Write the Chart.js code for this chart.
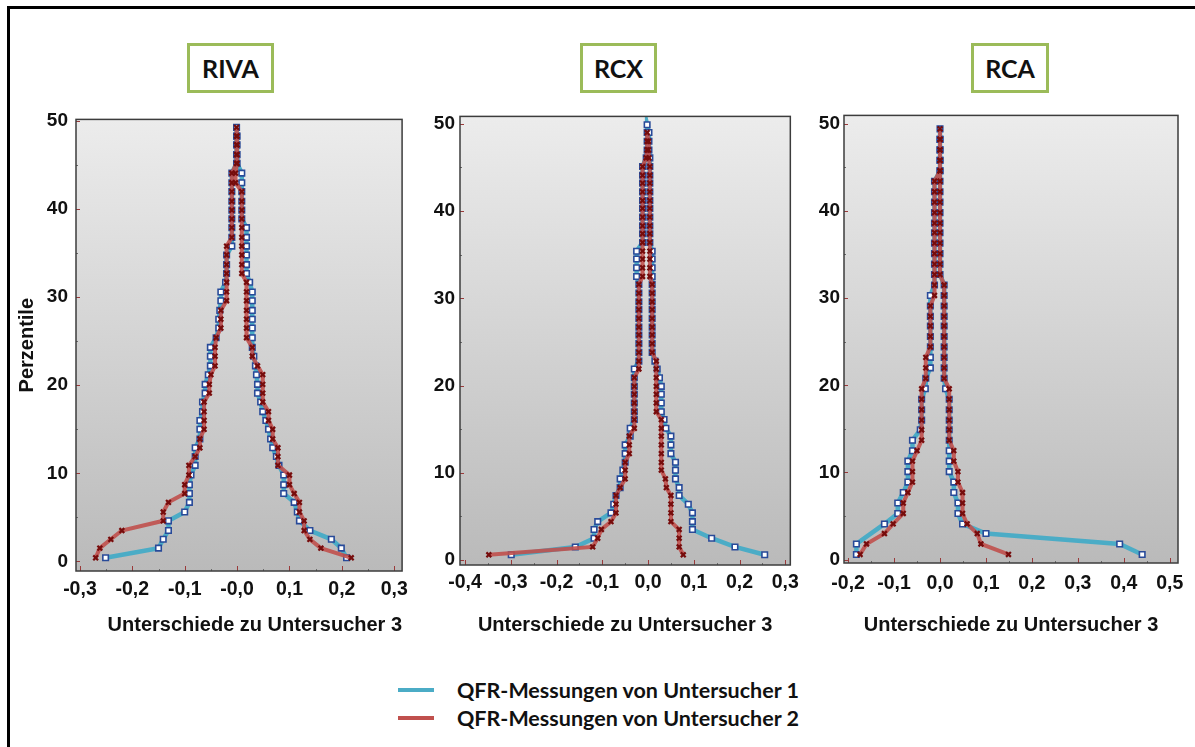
<!DOCTYPE html>
<html>
<head>
<meta charset="utf-8">
<script src="https://cdn.jsdelivr.net/npm/chart.js@4.4.1/dist/chart.umd.min.js"></script>
<style>
  html, body { margin: 0; padding: 0; background: #fff; }
  body { width: 1195px; height: 747px; position: relative; overflow: hidden; }
  #frame { position: absolute; left: 7px; top: 6px; width: 1200px; height: 760px;
           border-left: 3px solid #000; border-top: 3px solid #000; }
  canvas { position: absolute; }
  .tag { position: absolute; top: 43px; height: 50px; box-sizing: border-box;
         border: 3px solid #9bbb59; background: #fff; display: flex;
         align-items: center; justify-content: center;
         font: 700 25px Lato, "Open Sans", sans-serif; color: #111; }
  .key { position: absolute; left: 398px; height: 24px; display: flex; align-items: center;
         font: 700 21.5px Lato, "Open Sans", sans-serif; color: #111; white-space: nowrap; }
  .key span { display: inline-block; width: 36px; height: 4px; margin-right: 23px; }
</style>
</head>
<body>
<div id="frame"></div>
<div class="tag" style="left:187px;width:87px">RIVA</div>
<div class="tag" style="left:580px;width:77px">RCX</div>
<div class="tag" style="left:971px;width:78px">RCA</div>
<canvas id="riva" width="405" height="560" style="left:10px;top:100px"></canvas>
<canvas id="rcx" width="390" height="560" style="left:415px;top:100px"></canvas>
<canvas id="rca" width="390" height="560" style="left:805px;top:100px"></canvas>
<div class="key" style="top:678px"><span style="background:#4bacc6"></span>QFR-Messungen von Untersucher 1</div>
<div class="key" style="top:706px"><span style="background:#c0504d"></span>QFR-Messungen von Untersucher 2</div>
<script>
const yTicks = [0, 10, 20, 30, 40, 50];

// RIVA: folded percentile levels, then x per level (left flank rising, right flank falling)
const rivaLevels = [0.4, 1.5, 2.5, 3.5, 4.6, 5.6, 6.7, 7.7, 8.7, 9.8, 10.9, 11.9, 12.9, 13.9, 15.0, 16.0,
  17.0, 18.1, 19.1, 20.1, 21.2, 22.2, 23.3, 24.3, 25.4, 26.5, 27.5, 28.5, 29.6, 30.6, 31.7, 32.7,
  33.7, 34.8, 35.8, 36.8, 37.9, 38.9, 39.9, 40.9, 42.0, 43.0, 44.1, 45.2, 46.2, 47.3, 48.3, 49.3];
const rivaU1Left = [-0.251, -0.150, -0.141, -0.131, -0.131, -0.100, -0.091, -0.091, -0.091, -0.088,
  -0.080, -0.080, -0.080, -0.071, -0.071, -0.071, -0.066, -0.066, -0.061, -0.061, -0.055, -0.051,
  -0.051, -0.051, -0.040, -0.035, -0.035, -0.033, -0.031, -0.031, -0.022, -0.020, -0.020, -0.020,
  -0.010, -0.010, -0.010, -0.010, -0.010, -0.010, -0.010, -0.010, -0.010, -0.001, -0.001, -0.001,
  -0.001, -0.001];
const rivaU1Right = [0.000, 0.000, 0.000, 0.000, 0.009, 0.009, 0.009, 0.009, 0.009, 0.009, 0.018,
  0.018, 0.018, 0.018, 0.018, 0.018, 0.024, 0.029, 0.029, 0.029, 0.029, 0.029, 0.029, 0.029, 0.032,
  0.035, 0.037, 0.039, 0.039, 0.045, 0.049, 0.055, 0.060, 0.064, 0.068, 0.075, 0.080, 0.089, 0.089,
  0.089, 0.109, 0.115, 0.119, 0.139, 0.180, 0.199, 0.209];
const rivaU2Left = [-0.270, -0.262, -0.241, -0.220, -0.141, -0.141, -0.131, -0.100, -0.100, -0.092,
  -0.092, -0.080, -0.071, -0.071, -0.063, -0.063, -0.063, -0.063, -0.053, -0.053, -0.050, -0.042,
  -0.042, -0.042, -0.040, -0.031, -0.031, -0.031, -0.020, -0.020, -0.020, -0.020, -0.020, -0.020,
  -0.020, -0.010, -0.010, -0.010, -0.010, -0.010, -0.010, -0.010, -0.010, -0.001, -0.001, -0.001,
  -0.001, -0.001];
const rivaU2Right = [0.000, 0.000, 0.000, 0.000, -0.003, -0.003, 0.009, 0.009, 0.009, 0.009, 0.009,
  0.009, 0.009, 0.009, 0.009, 0.009, 0.018, 0.018, 0.018, 0.018, 0.018, 0.018, 0.018, 0.029, 0.029,
  0.039, 0.049, 0.049, 0.049, 0.049, 0.060, 0.060, 0.068, 0.068, 0.078, 0.078, 0.078, 0.100, 0.100,
  0.109, 0.119, 0.119, 0.128, 0.128, 0.139, 0.160, 0.218];
const rivaXTicks = [-0.3, -0.2, -0.1, 0, 0.1, 0.2, 0.3];
const rivaXLabels = ['-0,3', '-0,2', '-0,1', '-0,0', '0,1', '0,2', '0,3'];

// RCX
const rcxLevels = [0.6, 1.5, 2.5, 3.5, 4.4, 5.4, 6.4, 7.4, 8.3, 9.3, 10.3, 11.2, 12.2, 13.2, 14.2,
  15.1, 16.1, 17.0, 18.0, 19.0, 19.9, 20.9, 21.9, 22.8, 23.8, 24.8, 25.8, 26.7, 27.7, 28.7, 29.6,
  30.6, 31.6, 32.5, 33.5, 34.5, 35.4, 36.4, 37.4, 38.3, 39.3, 40.3, 41.2, 42.2, 43.2, 44.1, 45.1,
  46.1, 47.0, 48.0, 49.0, 49.9];
const rcxU1Left = [-0.299, -0.159, -0.118, -0.118, -0.110, -0.081, -0.075, -0.070, -0.061, -0.061,
  -0.055, -0.050, -0.050, -0.050, -0.039, -0.039, -0.030, -0.030, -0.030, -0.030, -0.030, -0.030,
  -0.030, -0.020, -0.020, -0.020, -0.020, -0.020, -0.020, -0.020, -0.020, -0.020, -0.020, -0.025,
  -0.025, -0.025, -0.025, -0.012, -0.012, -0.012, -0.012, -0.012, -0.012, -0.012, -0.012, -0.012,
  -0.012, -0.004, -0.002, -0.002, -0.002, -0.002];
const rcxU1Right = [0.002, 0.002, 0.002, 0.004, 0.004, 0.004, 0.004, 0.004, 0.004, 0.004, 0.004,
  0.004, 0.004, 0.004, 0.009, 0.009, 0.009, 0.009, 0.009, 0.009, 0.009, 0.009, 0.009, 0.009, 0.009,
  0.009, 0.009, 0.015, 0.020, 0.025, 0.029, 0.029, 0.029, 0.029, 0.035, 0.039, 0.050, 0.050, 0.050,
  0.060, 0.060, 0.060, 0.068, 0.068, 0.088, 0.097, 0.097, 0.097, 0.139, 0.190, 0.255];
const rcxU2Left = [-0.348, -0.121, -0.110, -0.102, -0.081, -0.070, -0.070, -0.070, -0.061, -0.050,
  -0.050, -0.050, -0.041, -0.041, -0.041, -0.030, -0.030, -0.030, -0.030, -0.030, -0.030, -0.030,
  -0.020, -0.020, -0.020, -0.020, -0.020, -0.020, -0.020, -0.020, -0.020, -0.020, -0.020, -0.012,
  -0.012, -0.012, -0.012, -0.012, -0.012, -0.012, -0.012, -0.012, -0.012, -0.012, -0.012, -0.012,
  -0.012, -0.004, -0.002, -0.002, -0.002];
const rcxU2Right = [0.001, 0.001, 0.002, 0.004, 0.004, 0.004, 0.004, 0.004, 0.004, 0.004, 0.004,
  0.004, 0.004, 0.004, 0.004, 0.004, 0.004, 0.009, 0.009, 0.009, 0.009, 0.009, 0.009, 0.009, 0.009,
  0.009, 0.018, 0.018, 0.018, 0.018, 0.018, 0.018, 0.018, 0.029, 0.029, 0.029, 0.029, 0.029, 0.029,
  0.029, 0.038, 0.040, 0.050, 0.050, 0.050, 0.050, 0.068, 0.068, 0.068, 0.077];
const rcxXTicks = [-0.4, -0.3, -0.2, -0.1, 0, 0.1, 0.2, 0.3];
const rcxXLabels = ['-0,4', '-0,3', '-0,2', '-0,1', '0,0', '0,1', '0,2', '0,3'];

// RCA (null = no measurement at that level)
const rcaLevels = [0.6, 1.8, 3.0, 4.1, 5.3, 6.5, 7.7, 8.9, 10.1, 11.3, 12.5, 13.7, 14.9, 16.0, 17.2,
  18.4, 19.6, 20.8, 22.0, 23.2, 24.4, 25.6, 26.8, 27.9, 29.1, 30.3, 31.5, 32.7, 33.9, 35.1, 36.3,
  37.5, 38.6, 39.8, 41.0, 42.2, 43.4, 44.6, 45.8, 47.0, 48.2, 49.4];
const rcaU1Left = [-0.182, -0.182, null, -0.121, -0.092, -0.092, -0.080, -0.070, -0.070, -0.070,
  -0.060, -0.060, -0.043, -0.040, -0.040, -0.040, -0.032, -0.031, -0.021, -0.021, -0.021, -0.021,
  -0.021, -0.021, -0.021, -0.021, -0.012, -0.012, -0.012, -0.012, -0.012, -0.012, -0.012, -0.012,
  -0.012, -0.012, -0.012, 0.000, 0.000, 0.000, 0.000, 0.000];
const rcaU1Right = [0.000, 0.000, 0.000, 0.000, 0.000, 0.000, 0.000, 0.000, 0.000, 0.000, 0.000,
  0.000, 0.000, 0.000, 0.009, 0.009, 0.009, 0.009, 0.009, 0.009, 0.009, 0.009, 0.009, 0.009, 0.012,
  0.020, 0.020, 0.020, 0.020, 0.020, 0.020, 0.020, 0.020, 0.030, 0.030, 0.039, 0.039, 0.049, 0.100,
  0.391, 0.440];
const rcaU2Left = [-0.174, -0.160, -0.121, -0.102, -0.080, -0.080, -0.070, -0.060, -0.060, -0.060,
  -0.050, -0.040, -0.040, -0.040, -0.040, -0.040, -0.040, -0.031, -0.031, -0.031, -0.021, -0.021,
  -0.021, -0.021, -0.021, -0.012, -0.012, -0.012, -0.012, -0.012, -0.012, -0.012, -0.012, -0.012,
  -0.012, -0.012, -0.012, 0.000, 0.000, 0.000, 0.000, 0.000];
const rcaU2Right = [0.000, 0.000, 0.000, 0.000, 0.000, 0.000, 0.000, 0.000, 0.000, 0.000, 0.000,
  0.000, 0.000, 0.000, 0.009, 0.009, 0.009, 0.009, 0.009, 0.009, 0.009, 0.009, 0.009, 0.009, 0.020,
  0.020, 0.020, 0.020, 0.020, 0.020, 0.030, 0.030, 0.039, 0.039, 0.049, 0.049, 0.049, 0.059, 0.081,
  0.089, 0.149];
const rcaXTicks = [-0.2, -0.1, 0, 0.1, 0.2, 0.3, 0.4, 0.5];
const rcaXLabels = ['-0,2', '-0,1', '0,0', '0,1', '0,2', '0,3', '0,4', '0,5'];

// left flank uses levels[0..], right flank walks back down from the level below the peak
function mountain(levels, left, right) {
  const pts = [];
  left.forEach((x, i) => { if (x !== null) pts.push({ x: x, y: levels[i] }); });
  right.forEach((x, i) => { if (x !== null) pts.push({ x: x, y: levels[left.length - 2 - i] }); });
  return pts;
}

Chart.defaults.font.family = '"Liberation Sans", Arial, sans-serif';
Chart.defaults.font.weight = 'bold';
Chart.defaults.color = '#111';

// grey gradient plot area, dark frame and small inward ticks
const plotFrame = {
  id: 'plotFrame',
  beforeDatasetsDraw(chart) {
    const { ctx, chartArea: a } = chart;
    const g = ctx.createLinearGradient(0, a.top, 0, a.bottom);
    g.addColorStop(0, '#ececec');
    g.addColorStop(1, '#bababa');
    ctx.save();
    ctx.fillStyle = g;
    ctx.fillRect(a.left, a.top, a.right - a.left, a.bottom - a.top);
    ctx.restore();
  },
  afterDatasetsDraw(chart) {
    const { ctx, chartArea: a, scales } = chart;
    ctx.save();
    ctx.lineWidth = 1;
    const xt = scales.x.ticks.map(t => t.value);
    xt.forEach((v, i) => {
      const px = Math.round(scales.x.getPixelForValue(v)) + 0.5;
      ctx.strokeStyle = '#9a3a3a';
      ctx.beginPath(); ctx.moveTo(px, a.bottom); ctx.lineTo(px, a.bottom - 5); ctx.stroke();
      if (i < xt.length - 1) {
        const mx = Math.round(scales.x.getPixelForValue((v + xt[i + 1]) / 2)) + 0.5;
        ctx.strokeStyle = '#6a6a6a';
        ctx.beginPath(); ctx.moveTo(mx, a.bottom); ctx.lineTo(mx, a.bottom - 2); ctx.stroke();
      }
    });
    const yt = scales.y.ticks.map(t => t.value);
    yt.forEach((v, i) => {
      const py = Math.round(scales.y.getPixelForValue(v)) + 0.5;
      ctx.strokeStyle = '#9a3a3a';
      ctx.beginPath(); ctx.moveTo(a.left, py); ctx.lineTo(a.left + 4, py); ctx.stroke();
      if (i < yt.length - 1) {
        const my = Math.round(scales.y.getPixelForValue((v + yt[i + 1]) / 2)) + 0.5;
        ctx.strokeStyle = '#6a6a6a';
        ctx.beginPath(); ctx.moveTo(a.left, my); ctx.lineTo(a.left + 2, my); ctx.stroke();
      }
    });
    ctx.strokeStyle = '#3c3c3c';
    ctx.lineWidth = 1.5;
    ctx.strokeRect(a.left, a.top, a.right - a.left, a.bottom - a.top);
    ctx.restore();
  }
};

const panels = [
  { id: 'riva', levels: rivaLevels, u1: [rivaU1Left, rivaU1Right], u2: [rivaU2Left, rivaU2Right],
    xMin: -0.3075, xMax: 0.315, yMin: -1.1, yMax: 50.2, xTicks: rivaXTicks, xLabels: rivaXLabels,
    padTop: 13, padRight: 9, yWidth: 66, xHeight: 89, xTickPad: 7, yTickPad: 8,
    yTitle: true, titleAlign: 'end' },
  { id: 'rcx', levels: rcxLevels, u1: [rcxU1Left, rcxU1Right], u2: [rcxU2Left, rcxU2Right],
    xMin: -0.411, xMax: 0.311, yMin: -0.57, yMax: 50.85, xTicks: rcxXTicks, xLabels: rcxXLabels,
    padTop: 11, padRight: 10, yWidth: 45, xHeight: 95, xTickPad: 6, yTickPad: 5,
    yTitle: false, titleAlign: 'center' },
  { id: 'rca', levels: rcaLevels, u1: [rcaU1Left, rcaU1Right], u2: [rcaU2Left, rcaU2Right],
    xMin: -0.209, xMax: 0.518, yMin: -0.38, yMax: 50.95, xTicks: rcaXTicks, xLabels: rcaXLabels,
    padTop: 13, padRight: 17, yWidth: 39, xHeight: 97, xTickPad: 9, yTickPad: 4,
    yTitle: false, titleAlign: 'center' }
];

panels.forEach(p => {
  new Chart(document.getElementById(p.id), {
    type: 'scatter',
    data: {
      datasets: [
        {
          label: 'QFR-Messungen von Untersucher 2',
          data: mountain(p.levels, p.u2[0], p.u2[1]),
          showLine: true,
          order: 0,
          borderColor: 'rgba(192, 80, 77, 0.9)',
          borderWidth: 4,
          pointStyle: 'crossRot',
          pointRadius: 3.4,
          pointBorderColor: '#760c0c',
          pointBorderWidth: 2.2
        },
        {
          label: 'QFR-Messungen von Untersucher 1',
          data: mountain(p.levels, p.u1[0], p.u1[1]),
          showLine: true,
          order: 1,
          borderColor: '#4bacc6',
          borderWidth: 4.5,
          pointStyle: 'rect',
          pointRadius: 3.9,
          pointBackgroundColor: '#ffffff',
          pointBorderColor: '#284a99',
          pointBorderWidth: 1.6
        }
      ]
    },
    options: {
      responsive: false,
      animation: false,
      events: [],
      layout: { padding: { top: p.padTop, right: p.padRight, left: 0, bottom: 0 } },
      plugins: { legend: { display: false }, tooltip: { enabled: false } },
      scales: {
        x: {
          type: 'linear',
          min: p.xMin,
          max: p.xMax,
          afterBuildTicks: s => { s.ticks = p.xTicks.map(v => ({ value: v })); },
          afterFit: s => { s.height = p.xHeight; },
          ticks: {
            autoSkip: false, maxRotation: 0, padding: p.xTickPad,
            font: { size: 19.5, weight: 'bold' },
            callback: (v, i) => p.xLabels[i]
          },
          grid: { display: false, drawTicks: false },
          border: { display: false },
          title: {
            display: true, text: 'Unterschiede zu Untersucher 3', align: p.titleAlign,
            font: { size: 20, weight: 'bold' }, padding: { top: 0, bottom: 23 }
          }
        },
        y: {
          type: 'linear',
          min: p.yMin,
          max: p.yMax,
          afterBuildTicks: s => { s.ticks = yTicks.map(v => ({ value: v })); },
          afterFit: s => { s.width = p.yWidth; },
          ticks: {
            autoSkip: false, padding: p.yTickPad,
            font: { size: 19, weight: 'bold' },
            callback: v => String(v)
          },
          grid: { display: false, drawTicks: false },
          border: { display: false },
          title: {
            display: p.yTitle, text: 'Perzentile',
            font: { size: 20, weight: 'bold' }, padding: { top: 5, bottom: 0 }
          }
        }
      }
    },
    plugins: [plotFrame]
  });
});
</script>
</body>
</html>
